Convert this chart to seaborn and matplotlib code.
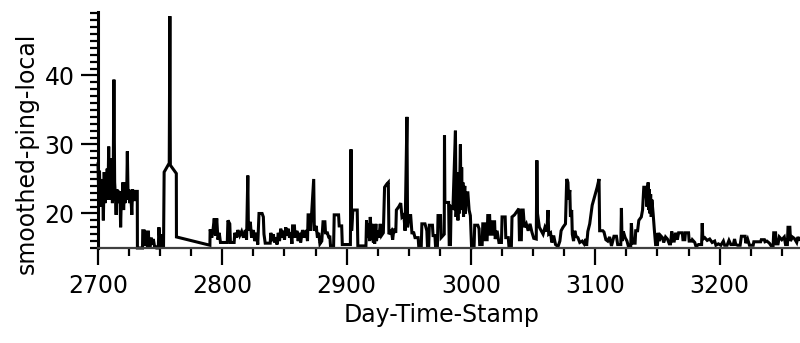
import pandas as pd
import matplotlib
matplotlib.use('Agg')
import matplotlib.pyplot as plt
import seaborn as sns
from matplotlib.ticker import MultipleLocator

# (Day-Time-Stamp, smoothed-ping-local) pairs, segment by segment
burst_2700 = [
    (2700, 27.3), (2700.6, 22.5), (2701.2, 26.2), (2701.8, 21), (2702.4, 25), (2703, 22),
    (2703.6, 24.5), (2704.3, 19), (2705, 26), (2705.6, 21.5), (2706.2, 24), (2706.8, 22),
    (2707.4, 26.5), (2708, 22.5), (2708.6, 29.7), (2709.2, 22), (2709.8, 28), (2710.4, 22.5),
    (2711, 25), (2711.6, 21.5), (2712.2, 24.5), (2712.8, 39.4), (2713.4, 24.5), (2714, 22.5),
    (2714.6, 19.8), (2715.2, 23.5), (2715.8, 22), (2716.4, 23.3), (2717, 21.5), (2717.6, 23.2),
    (2718.2, 18), (2718.8, 22.5), (2719.4, 21), (2720, 24.5), (2720.6, 20.5), (2721.2, 23),
    (2721.8, 21.5), (2722.4, 24.5), (2723, 22), (2723.6, 29), (2724.2, 22.5), (2724.8, 23.5),
    (2725.4, 21.5), (2726, 23.3), (2726.6, 22), (2727.2, 19.8), (2727.8, 23.5), (2728.4, 22),
    (2729, 23.3), (2729.6, 21.8), (2730.2, 23.2), (2731.6, 23.2), (2731.7, 15),
]

quiet_2732 = [
    (2732.5, 15), (2735.8, 15), (2736, 17.5), (2737, 17.5), (2737.1, 15.5), (2737.8, 15.5),
    (2737.9, 17.5), (2739, 16), (2739.8, 15.2), (2740.5, 17.5), (2741, 15.2), (2742, 15.2),
    (2742.8, 16.5), (2743.5, 15.5), (2744.5, 16.3), (2745.5, 15.2), (2746.3, 15.2), (2747, 15),
    (2748.5, 15), (2749, 18), (2749.7, 16), (2750.3, 17), (2751, 15.2), (2752.7, 15.2),
    (2753.2, 26), (2757.3, 27.3), (2757.8, 48.6), (2758.2, 27), (2763, 25.8), (2763.1, 16.6),
    (2790, 15.4), (2790.2, 17.7),
]

noise_2790 = [
    (2791.5, 16.5), (2792.5, 17.6), (2793.5, 19.3), (2794.5, 16.8), (2795.5, 19.3), (2796.5, 16.2),
    (2797.5, 17.2), (2798.5, 15.8), (2804, 15.8), (2804.5, 19), (2806, 18.5), (2806.5, 15.8),
    (2809.5, 15.8), (2810, 17.2), (2811.5, 16.5), (2812.5, 17.6), (2814, 16.8), (2815.5, 17.4),
    (2817, 16.5), (2818.5, 17.6), (2819.5, 16.2), (2820.5, 25.5), (2821, 17.5), (2822.5, 18.8),
    (2823.5, 16.5), (2825, 17.6), (2826, 16), (2827.5, 17.2), (2828.5, 15.5), (2829.5, 20),
    (2832, 20), (2833, 19.5), (2833.5, 17), (2834.5, 15.7), (2838.5, 15.7), (2839, 17.2),
    (2840, 16), (2841, 17), (2842, 15.8), (2843, 16.5), (2844, 15.5), (2845, 17.2), (2846, 16),
    (2847, 17.8), (2848, 16.5), (2849, 17.5), (2850, 16.2), (2851, 18), (2852, 16.8), (2853, 17.8),
    (2854, 16.5), (2855, 17.2), (2856, 15.6), (2856.5, 18.2), (2858, 18.2), (2858.5, 16.5),
    (2860, 17.5), (2861, 16), (2862, 17.2), (2863, 15.8), (2864.5, 17.6), (2866, 16.5),
    (2867.5, 17.6), (2868.5, 16), (2869, 19.8), (2870.5, 19.8), (2871, 17.5), (2873.5, 25),
    (2874, 17.5), (2875.5, 18.2), (2876.5, 16.5), (2877.5, 17.2), (2878.5, 15.6), (2880, 16),
    (2881, 18.8), (2882.5, 18.8), (2883, 17.2), (2884.5, 17.2), (2885.5, 16.6), (2886.5, 16.6),
    (2887, 15.3), (2889.5, 15.3), (2890, 19.8), (2893.5, 19.8), (2894, 18.2), (2896, 18.2),
    (2896.5, 15.5),
]

spikes_2900 = [
    (2903, 15.5), (2903.5, 29.3), (2904, 17.5), (2905, 20.5), (2908.5, 20.5), (2909, 15.3),
    (2915.5, 15.3), (2916, 19), (2917, 16.5), (2917.5, 18.5), (2918.5, 16), (2919, 19.5),
    (2920, 16.2), (2920.5, 18.5), (2921.5, 15.8), (2922, 17.8), (2922.5, 15.6), (2923.5, 18.5),
    (2924, 16), (2925, 17.5), (2926, 16.5), (2927, 18.5), (2928, 16.8), (2929.5, 17.2),
    (2930.5, 23.8), (2932, 24.2), (2933.5, 24.5), (2934, 17), (2936, 17.5), (2937, 16.2),
    (2938, 17.8), (2939.5, 17.2), (2940, 20.5), (2942, 21), (2943.5, 21.5), (2944.5, 19.5),
    (2946, 19.8), (2947, 17.5), (2948.5, 34), (2949, 18), (2950, 19.7), (2951.5, 19.7),
    (2952.5, 17.2), (2954, 17.2), (2955, 16.5), (2957.5, 16.5), (2958, 15.2), (2960, 15.2),
    (2960.5, 18.5), (2963, 18.5), (2964.5, 17.5), (2965, 15.3), (2966, 15.3), (2966.5, 18.3),
    (2969, 18.3), (2969.5, 16.8), (2971, 16.8), (2971.5, 15.2), (2973, 15.2), (2973.5, 19.7),
    (2975.5, 19.7), (2976, 16.5), (2978.5, 17), (2978.7, 31.3), (2979, 21.6), (2982, 21.6),
    (2982.5, 15.5), (2983.5, 15.5), (2984, 21), (2985.5, 20.8), (2987.5, 32), (2988, 19.5),
    (2989, 25), (2989.5, 19), (2990, 26), (2990.5, 20), (2991.5, 30), (2992, 20.5),
    (2992.5, 26.7), (2993, 21), (2993.5, 24.5), (2994, 19.5), (2995, 24), (2995.5, 20),
    (2996, 22), (2996.5, 23), (2997.5, 23), (2998.5, 20.5), (2999.5, 19.7), (3000.5, 15),
]

noise_3000 = [
    (3002.5, 15.2), (3003, 18.3), (3005.5, 18.3), (3006.5, 17.8), (3007, 15.5), (3009, 15.5),
    (3009.5, 18.5), (3011, 18.5), (3011.5, 16.2), (3013, 16.2), (3013.5, 19.7), (3015, 19.7),
    (3015.5, 17), (3017, 17), (3017.5, 18.8), (3019, 18.8), (3019.5, 16.3), (3021, 17.5),
    (3022.5, 15.8), (3024.5, 15.8), (3025, 19.5), (3027.5, 19.5), (3028, 16.5), (3030, 16.5),
    (3030.5, 15.3), (3032.5, 15.3), (3033, 19.5), (3035, 19.8), (3037, 20.3), (3038.5, 20.7),
    (3039, 16.2), (3040.5, 16.2), (3041, 20.5), (3042, 20.5), (3043, 18), (3044.5, 18.5),
    (3046, 17.5), (3047.5, 18.5), (3049, 17.3), (3050.5, 16.4), (3052.5, 16.3), (3053, 27.7),
    (3053.5, 20), (3055, 18), (3056.5, 17.5), (3058, 17), (3059.5, 18), (3061, 17.4),
    (3062, 20.5), (3062.5, 17), (3064, 17.2), (3065, 15.8), (3066.5, 16.8), (3068, 15.5),
    (3070, 15.2), (3071.5, 16), (3072.5, 17.5), (3074, 18), (3076, 18.5), (3077, 25),
    (3078, 24.5), (3078.5, 22), (3079.5, 23.4), (3080, 19.5), (3081, 20.5), (3081.5, 17),
    (3082.5, 16), (3083.5, 17.5), (3084.5, 16.7), (3086, 16.5), (3087.5, 15.8), (3089.5, 16),
    (3091, 15.6), (3092.5, 16.3), (3093, 15.3), (3094, 17.4), (3095.5, 18.5), (3097.5, 21.2),
    (3099.5, 22.5), (3101.5, 23.8), (3103, 25), (3103.5, 17.5), (3106, 17.5), (3107, 17.3),
    (3108.5, 16.2), (3110, 16), (3111.5, 16.6), (3113, 15.3), (3115, 16.7), (3117, 16.7),
    (3118, 15.5), (3120.5, 15.5), (3121, 20.8), (3121.5, 16), (3122.5, 17.4), (3124, 16.5),
    (3125.5, 16), (3126.5, 15.3), (3128.5, 15.3), (3129, 18.6), (3130, 15.7), (3132, 15.7),
    (3132.5, 17.5), (3134, 17.5), (3135, 19), (3137, 19.5), (3138, 20.5), (3139, 23.8),
    (3140.5, 23.8), (3141.5, 21), (3142.5, 24.5), (3143, 20.5), (3143.5, 23.5), (3144, 20),
    (3144.5, 22.8), (3145, 19.5), (3145.5, 22), (3146.5, 20), (3147.5, 17.6), (3148.5, 15.5),
]

tail_3150 = [
    (3150, 15.5), (3150.5, 17.2), (3151.5, 16), (3152.5, 16.8), (3154, 16.5), (3155, 15.8),
    (3156.5, 16.6), (3158, 16.3), (3159.5, 15.6), (3160.5, 15.6), (3161.5, 17.4), (3162.5, 16),
    (3163.5, 16), (3164.5, 17.2), (3166, 16.2), (3167, 17.2), (3170, 17.2), (3170.5, 16.2),
    (3172, 16.2), (3172.5, 17.2), (3175, 17.2), (3175.5, 16), (3177.5, 16), (3178, 16.2),
    (3180, 15.8), (3181, 15.2), (3183, 15.5), (3185.5, 15.5), (3186, 18.6), (3186.5, 16.3),
    (3188, 16.5), (3190, 16.1), (3192, 16.3), (3194, 15.8), (3196, 16), (3197, 15.4),
    (3199, 15.6), (3201, 15.4), (3203, 16), (3204, 15.4), (3206, 15.4), (3207.5, 16.1),
    (3209, 15.5), (3211, 15.5), (3212, 16.3), (3213, 15.5), (3214.5, 15.4), (3216.5, 15.4),
    (3217.5, 16.7), (3220.5, 16.7), (3221, 15.7), (3222.5, 16.3), (3224, 15.4), (3227, 15.4),
    (3227.5, 15.9), (3233, 15.9), (3233.5, 16.2), (3236, 16.2), (3236.5, 15.9), (3238, 16),
    (3240, 15.7), (3241.5, 15.3), (3243, 15.3), (3243.5, 17.2), (3245, 17.2), (3245.5, 15.6),
    (3247, 15.6), (3248, 16.6), (3250, 16.2), (3252, 16.6), (3253, 15.5), (3254.5, 15.5),
    (3255, 18), (3256.5, 18), (3257, 16), (3258.5, 16.6), (3260, 16.4), (3262, 15.8),
    (3263, 16.6), (3264, 16.2),
]

x_ticks = [2700, 2800, 2900, 3000, 3100, 3200]
y_ticks = [20, 30, 40]

segments = [burst_2700, quiet_2732, noise_2790, spikes_2900, noise_3000, tail_3150]
rows = [p for seg in segments for p in seg]
df = pd.DataFrame(rows, columns=["Day-Time-Stamp", "smoothed-ping-local"])

sns.set_style("ticks")
plt.rcParams['font.family'] = ['DejaVu Sans']
plt.rcParams['text.color'] = 'black'
plt.rcParams['axes.labelcolor'] = 'black'
plt.rcParams['xtick.color'] = 'black'
plt.rcParams['ytick.color'] = 'black'

fig, ax = plt.subplots(figsize=(8, 3.43), dpi=100)
fig.subplots_adjust(left=0.1225, right=0.999, bottom=0.277, top=0.965)

sns.lineplot(data=df, x="Day-Time-Stamp", y="smoothed-ping-local", sort=False,
             estimator=None, color="black", linewidth=2.2, ax=ax, clip_on=False)
ax.lines[0].set_solid_joinstyle("miter")

ax.set_xlim(2700, 3264)
ax.set_ylim(15, 49.2)
ax.set_xticks(x_ticks)
ax.set_yticks(y_ticks)
ax.xaxis.set_minor_locator(MultipleLocator(25))
ax.yaxis.set_minor_locator(MultipleLocator(1))

for side in ["top", "right"]:
    ax.spines[side].set_visible(False)
ax.spines["left"].set_linewidth(2.2)
ax.spines["left"].set_color("black")
ax.spines["bottom"].set_linewidth(1.6)
ax.spines["bottom"].set_color("#404040")

ax.tick_params(axis="both", which="major", length=12, width=1.6, color="black",
               labelsize=17, labelcolor="black")
ax.tick_params(axis="x", which="major", pad=7)
ax.tick_params(axis="y", which="major", pad=5)
ax.tick_params(axis="both", which="minor", length=6, width=1.6, color="black")

ax.set_xlabel("Day-Time-Stamp", fontsize=17, color="black")
ax.set_ylabel("smoothed-ping-local", fontsize=17, color="black")
ax.xaxis.set_label_coords(0.49, -0.235)
ax.yaxis.set_label_coords(-0.085, 0.40)

fig.savefig("out.png", dpi=100, facecolor="white")
